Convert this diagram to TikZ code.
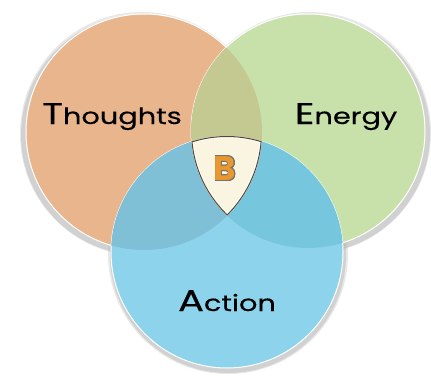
\documentclass[tikz,border=0pt]{standalone}
\usepackage{fontspec}
\usepackage{graphicx}
\usepackage{contour}
\newfontfamily\labfont[FakeBold=0.3]{Poppins}
\newfontfamily\bfont{Poppins}
\contourlength{0.7pt}
\definecolor{cOr}{HTML}{E9B58D}
\definecolor{cGr}{HTML}{C8E1AA}
\definecolor{cBl}{HTML}{8ED3EC}
\definecolor{cOG}{HTML}{C4C992}
\definecolor{cOB}{HTML}{80C0D6}
\definecolor{cGB}{HTML}{76C7DE}
\definecolor{cCream}{HTML}{FAF5E1}
\definecolor{cEdge}{HTML}{5A4632}
\definecolor{cBL}{HTML}{E8982E}
\newcommand{\lbl}[2]{\scalebox{1.28}[1]{\labfont\fontsize{30}{30}\selectfont #1\fontsize{22.5}{22.5}\selectfont #2}}
\tikzset{
  rim/.style={draw=white, line width=1pt},
  lab/.style={anchor=base, inner sep=0pt, text=black}
}
\begin{document}
\begin{tikzpicture}[x=1pt,y=-1pt]
\useasboundingbox[fill=white] (0,0) rectangle (431,380);
\coordinate (O) at (144,132);
\coordinate (G) at (308,131);
\coordinate (A) at (227,252);
% shadows
\fill[black!40, opacity=0.35] ([shift={(-3,3)}]O) circle (120);
\fill[black!40, opacity=0.35] ([shift={(3,3)}]G) circle (119);
\fill[black!40, opacity=0.35] ([shift={(1,3)}]A) circle (118);
\fill[black!25, opacity=0.35] ([shift={(-2,2)}]O) circle (122);
\fill[black!25, opacity=0.35] ([shift={(2,2)}]G) circle (121);
\fill[black!25, opacity=0.35] ([shift={(1,2)}]A) circle (120);
% circles
\filldraw[fill=cOr, rim] (O) circle (118);
\filldraw[fill=cGr, rim] (G) circle (117);
\filldraw[fill=cBl, rim] (A) circle (116);
% pairwise overlaps
\begin{scope}
  \clip (O) circle (118);
  \fill[cOG] (G) circle (117);
  \fill[cOB] (A) circle (116);
\end{scope}
\begin{scope}
  \clip (G) circle (117);
  \fill[cGB] (A) circle (116);
\end{scope}
% centre region
\begin{scope}
  \clip (O) circle (118);
  \clip (G) circle (117);
  \clip (A) circle (116);
  \fill[cCream] (A) circle (116);
  \draw[white, line width=4pt] (O) circle (118) (G) circle (117) (A) circle (116);
  \draw[cEdge, line width=2pt] (O) circle (118) (G) circle (117) (A) circle (116);
\end{scope}
% labels
\node[lab] (tT) at (112,124) {\lbl{T}{houghts}};
\node[lab] (tE) at (346,124) {\lbl{E}{nergy}};
\node[lab] (tA) at (227,311) {\lbl{A}{ction}};
\node[inner sep=0pt] (tB) at (225,169) {\bfont\fontsize{34}{34}\selectfont\bfseries\contour{black!55}{\textcolor{cBL}{B}}};
\end{tikzpicture}
\end{document}
